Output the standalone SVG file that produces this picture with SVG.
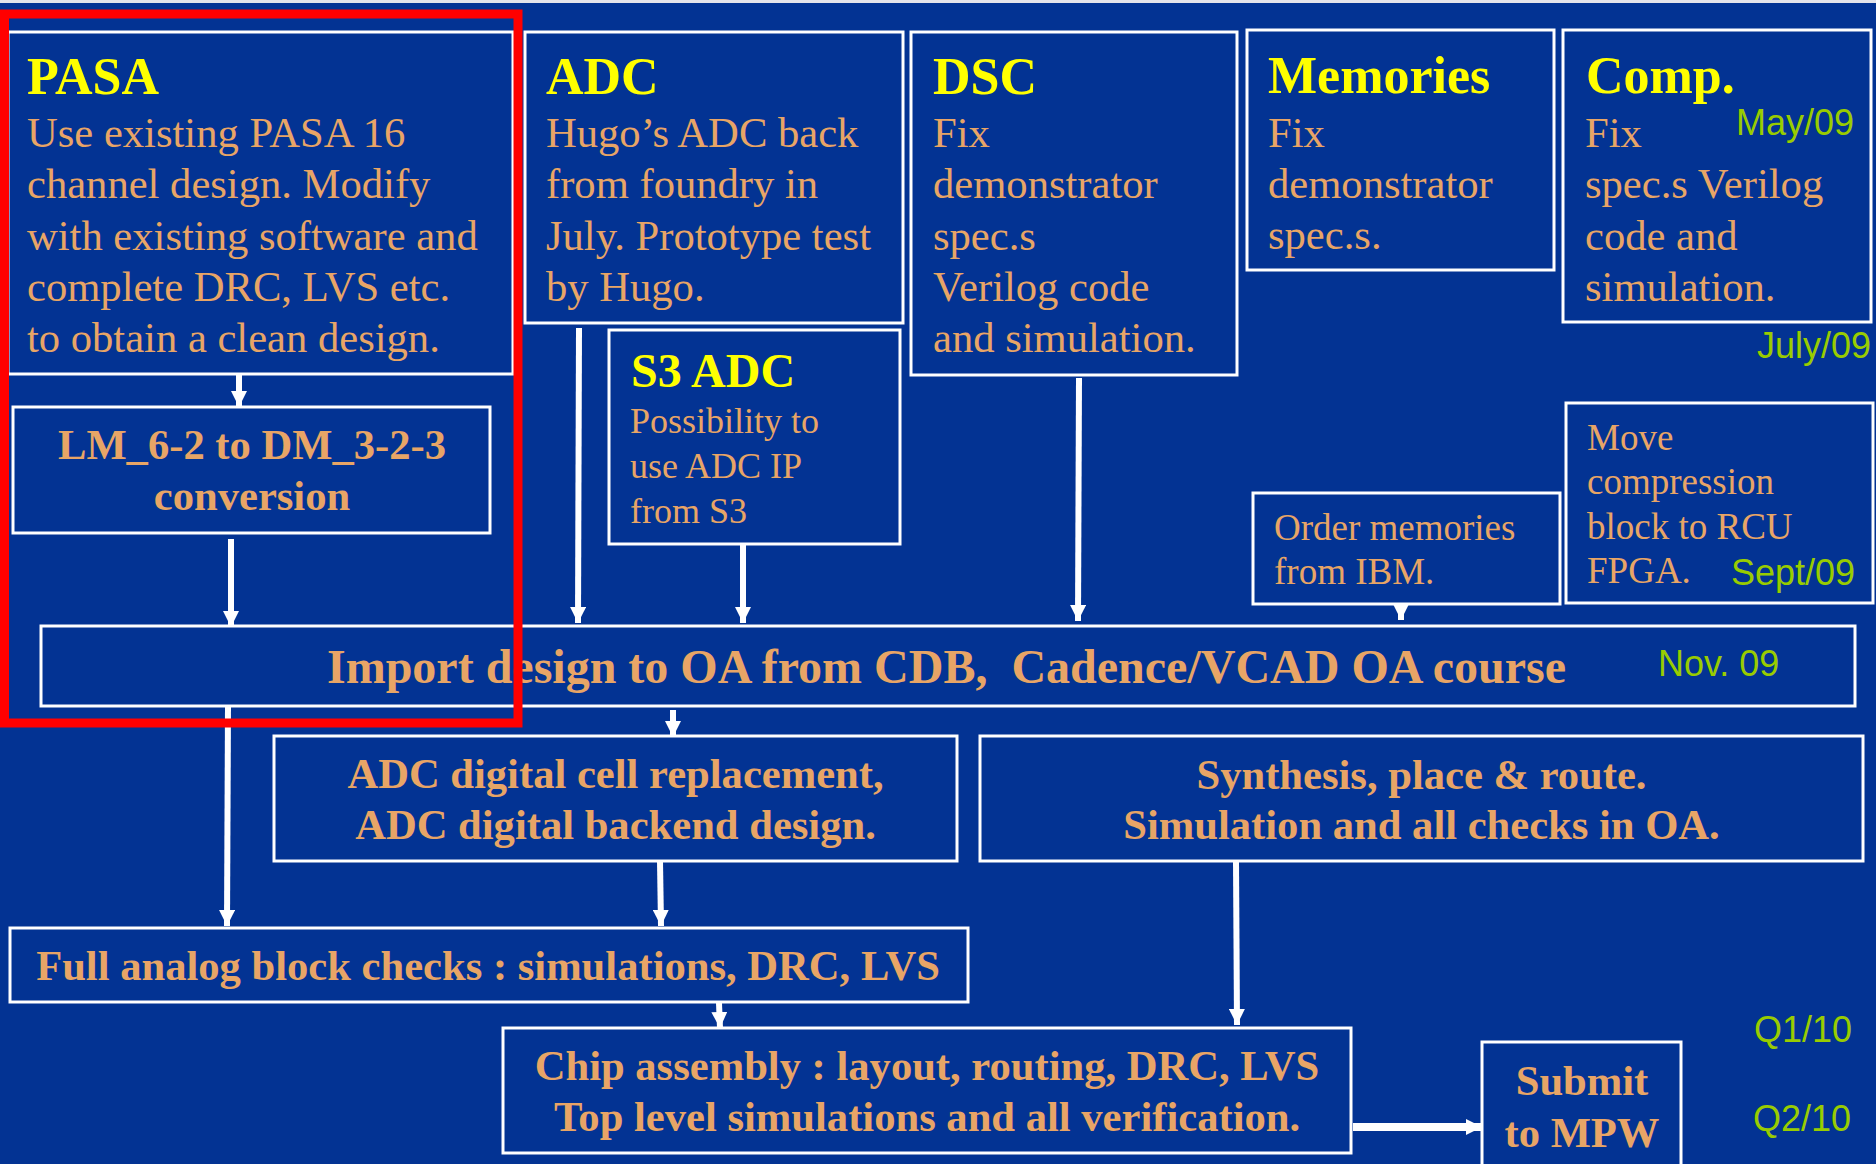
<svg xmlns="http://www.w3.org/2000/svg" width="1876" height="1164" viewBox="0 0 1876 1164">
<style>
.bg{fill:#033393}
.box{fill:none;stroke:#ffffff;stroke-width:3}
.t{font-family:"Liberation Serif","Times New Roman",serif;fill:#E8A566;font-size:42.6px}
.tb{font-family:"Liberation Serif","Times New Roman",serif;fill:#E8A566;font-size:42.6px;font-weight:bold}
.ts{font-family:"Liberation Serif","Times New Roman",serif;fill:#E8A566;font-size:37px}
.ttl{font-family:"Liberation Serif","Times New Roman",serif;fill:#FFFF00;font-size:52px;font-weight:bold}
.g{font-family:"Liberation Sans",Arial,sans-serif;fill:#99CC00;font-size:36px}
.c{text-anchor:middle}
.con{stroke:#ffffff;stroke-width:6;fill:none}
</style>
<defs>
<marker id="ah" markerUnits="userSpaceOnUse" markerWidth="16" markerHeight="16" refX="16" refY="8" orient="auto" viewBox="0 0 16 16">
<path d="M0,0 L16,8 L0,16 z" fill="#ffffff"/>
</marker>
</defs>
<rect class="bg" x="0" y="0" width="1876" height="1164"/>
<rect x="0" y="0" width="1876" height="3" fill="#e4e4ea"/>

<g id="pasa">
<rect class="box" x="8" y="32" width="505" height="342"/>
<text class="ttl" x="27" y="94">PASA</text>
<text class="t" x="27" y="147">Use existing PASA 16</text>
<text class="t" x="27" y="198">channel design. Modify</text>
<text class="t" x="27" y="249.5">with existing software and</text>
<text class="t" x="27" y="301">complete DRC, LVS etc.</text>
<text class="t" x="27" y="352">to obtain a clean design.</text>
</g>

<g id="adc">
<rect class="box" x="525" y="32" width="378" height="291"/>
<text class="ttl" x="546" y="94">ADC</text>
<text class="t" x="546" y="147">Hugo’s ADC back</text>
<text class="t" x="546" y="198">from foundry in</text>
<text class="t" x="546" y="249.5">July. Prototype test</text>
<text class="t" x="546" y="301">by Hugo.</text>
</g>

<g id="dsc">
<rect class="box" x="911" y="32" width="326" height="343"/>
<text class="ttl" x="933" y="94">DSC</text>
<text class="t" x="933" y="147">Fix</text>
<text class="t" x="933" y="198">demonstrator</text>
<text class="t" x="933" y="249.5">spec.s</text>
<text class="t" x="933" y="301">Verilog code</text>
<text class="t" x="933" y="352">and simulation.</text>
</g>

<g id="memories">
<rect class="box" x="1247" y="30" width="307" height="240"/>
<text class="ttl" x="1268" y="93">Memories</text>
<text class="t" x="1268" y="147">Fix</text>
<text class="t" x="1268" y="197.5">demonstrator</text>
<text class="t" x="1268" y="248.5">spec.s.</text>
</g>

<g id="comp">
<rect class="box" x="1563" y="30" width="308" height="292"/>
<text class="ttl" x="1586" y="93">Comp.</text>
<text class="g" x="1854" y="135" text-anchor="end">May/09</text>
<text class="t" x="1585" y="147">Fix</text>
<text class="t" x="1585" y="198">spec.s Verilog</text>
<text class="t" x="1585" y="249.5">code and</text>
<text class="t" x="1585" y="301">simulation.</text>
</g>
<text class="g" x="1871" y="358" text-anchor="end">July/09</text>

<g id="s3adc">
<rect class="box" x="609" y="330" width="291" height="214"/>
<text class="ttl" x="631" y="387" style="font-size:48px">S3 ADC</text>
<text class="t" x="630" y="433" style="font-size:36px">Possibility to</text>
<text class="t" x="630" y="478" style="font-size:36px">use ADC IP</text>
<text class="t" x="630" y="523" style="font-size:36px">from S3</text>
</g>

<g id="lm">
<rect class="box" x="13" y="407" width="477" height="126"/>
<text class="tb c" x="252" y="459">LM_6-2 to DM_3-2-3</text>
<text class="tb c" x="252" y="510">conversion</text>
</g>

<g id="order">
<rect class="box" x="1253" y="493" width="307" height="111"/>
<text class="ts" x="1274" y="540">Order memories</text>
<text class="ts" x="1274" y="584">from IBM.</text>
</g>

<g id="move">
<rect class="box" x="1566" y="403" width="307" height="200"/>
<text class="ts" x="1587" y="450">Move</text>
<text class="ts" x="1587" y="494">compression</text>
<text class="ts" x="1587" y="539">block to RCU</text>
<text class="ts" x="1587" y="583">FPGA.</text>
<text class="g" x="1855" y="585" text-anchor="end">Sept/09</text>
</g>

<g id="import">
<rect class="box" x="41" y="626" width="1814" height="80"/>
<text class="tb" x="327" y="683" style="font-size:48px">Import design to OA from CDB,&#160; Cadence/VCAD OA course</text>
<text class="g" x="1658" y="676">Nov. 09</text>
</g>

<g id="adcdigital">
<rect class="box" x="274" y="736" width="683" height="125"/>
<text class="tb c" x="615.5" y="788">ADC digital cell replacement,</text>
<text class="tb c" x="615.5" y="839">ADC digital backend design.</text>
</g>

<g id="synthesis">
<rect class="box" x="980" y="736" width="883" height="125"/>
<text class="tb c" x="1421.5" y="789">Synthesis, place &amp; route.</text>
<text class="tb c" x="1421.5" y="839">Simulation and all checks in OA.</text>
</g>

<g id="fullanalog">
<rect class="box" x="10" y="928" width="958" height="74"/>
<text class="tb c" x="488" y="980">Full analog block checks : simulations, DRC, LVS</text>
</g>

<g id="chip">
<rect class="box" x="503" y="1028" width="848" height="125"/>
<text class="tb c" x="927" y="1080">Chip assembly : layout, routing, DRC, LVS</text>
<text class="tb c" x="927" y="1131">Top level simulations and all verification.</text>
</g>

<g id="submit">
<rect class="box" x="1482" y="1042" width="199" height="140"/>
<text class="tb c" x="1582" y="1095">Submit</text>
<text class="tb c" x="1582" y="1147">to MPW</text>
</g>

<text class="g" x="1852" y="1042" text-anchor="end">Q1/10</text>
<text class="g" x="1851" y="1131" text-anchor="end">Q2/10</text>

<g id="connectors">
<line class="con" x1="239" y1="374" x2="239" y2="407" marker-end="url(#ah)"/>
<line class="con" x1="231" y1="539" x2="231" y2="627" marker-end="url(#ah)"/>
<line class="con" x1="579" y1="328" x2="578" y2="623" marker-end="url(#ah)"/>
<line class="con" x1="743" y1="545" x2="743" y2="623" marker-end="url(#ah)"/>
<line class="con" x1="1079" y1="378" x2="1078" y2="621" marker-end="url(#ah)"/>
<line class="con" x1="1401" y1="603" x2="1401" y2="620" marker-end="url(#ah)"/>
<line class="con" x1="673" y1="710" x2="673" y2="737" marker-end="url(#ah)"/>
<line class="con" x1="228" y1="706" x2="227" y2="926" marker-end="url(#ah)"/>
<line class="con" x1="660" y1="861" x2="661" y2="926" marker-end="url(#ah)"/>
<line class="con" x1="719" y1="1003" x2="720" y2="1028" marker-end="url(#ah)"/>
<line class="con" x1="1236" y1="861" x2="1237" y2="1025" marker-end="url(#ah)"/>
<line class="con" x1="1353" y1="1127" x2="1482" y2="1127" style="stroke-width:8" marker-end="url(#ah)"/>
</g>

<rect x="4.5" y="14" width="513.5" height="709" fill="none" stroke="#FF0000" stroke-width="9"/>
</svg>
